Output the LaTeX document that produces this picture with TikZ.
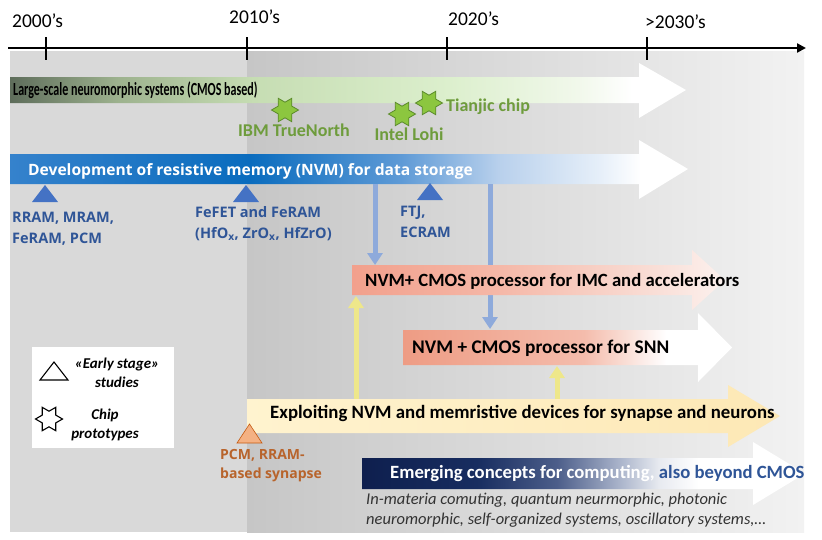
\documentclass[tikz,border=0pt]{standalone}
\usepackage{fontspec}
\setmainfont{Carlito}
\newfontfamily\segfont{Open Sans}
\newfontfamily\narrowfont[FakeStretch=0.65]{Carlito}
\usepackage{xcolor}
\usetikzlibrary{arrows.meta,shapes.geometric}

\definecolor{panelL}{HTML}{D9D9D9}
\definecolor{panelRa}{HTML}{C6C6C6}
\definecolor{panelRb}{HTML}{F2F2F2}
\definecolor{cmosA}{HTML}{5E6D5B}
\definecolor{cmosB}{HTML}{9DB28E}
\definecolor{cmosC}{HTML}{C6DDB3}
\definecolor{cmosD}{HTML}{DCEFCD}
\definecolor{cmosE}{HTML}{F1F8EB}
\definecolor{nvmA}{HTML}{3582CC}
\definecolor{nvmB}{HTML}{0A6CBE}
\definecolor{nvmC}{HTML}{5E9AD6}
\definecolor{nvmD}{HTML}{B8D0EC}
\definecolor{nvmE}{HTML}{E6EFF9}
\definecolor{imcA}{HTML}{F2A08C}
\definecolor{imcB}{HTML}{F5B8A8}
\definecolor{imcC}{HTML}{F9DDD5}
\definecolor{imcD}{HTML}{FCF1EE}
\definecolor{snnA}{HTML}{EE9C84}
\definecolor{snnB}{HTML}{F4BCAC}
\definecolor{synA}{HTML}{FFF3CF}
\definecolor{synB}{HTML}{FDE8B5}
\definecolor{emgA}{HTML}{0E1F4E}
\definecolor{emgB}{HTML}{182D60}
\definecolor{emgC}{HTML}{4C5E8A}
\definecolor{emgD}{HTML}{A9B3CA}
\definecolor{emgE}{HTML}{E7EAF0}
\definecolor{memblue}{HTML}{2F5597}
\definecolor{triblue}{HTML}{4472C4}
\definecolor{chipgreen}{HTML}{6E9C3C}
\definecolor{stargreen}{HTML}{8CC63F}
\definecolor{stargreenD}{HTML}{5A8A2A}
\definecolor{linkblue}{HTML}{8EAADB}
\definecolor{linkyellow}{HTML}{EEE78A}
\definecolor{pcmfill}{HTML}{F4B183}
\definecolor{pcmdraw}{HTML}{C55A11}
\definecolor{pcmtext}{HTML}{B8642C}
\definecolor{darktext}{HTML}{333333}

\pgfdeclarehorizontalshading{cmosband}{100bp}{color(0bp)=(cmosA); color(25bp)=(cmosA); color(33bp)=(cmosB); color(43bp)=(cmosC); color(57.5bp)=(cmosD); color(67bp)=(cmosE); color(71bp)=(white); color(100bp)=(white)}
\pgfdeclarehorizontalshading{nvmband}{100bp}{color(0bp)=(nvmA); color(25bp)=(nvmA); color(42.7bp)=(nvmB); color(53.8bp)=(nvmC); color(61bp)=(nvmD); color(68.5bp)=(nvmE); color(71.5bp)=(white); color(100bp)=(white)}
\pgfdeclarehorizontalshading{imcband}{100bp}{color(0bp)=(imcA); color(25bp)=(imcA); color(45bp)=(imcB); color(65bp)=(imcC); color(75bp)=(imcD); color(100bp)=(imcD)}
\pgfdeclarehorizontalshading{snnband}{100bp}{color(0bp)=(snnA); color(25bp)=(snnA); color(52.5bp)=(snnB); color(65bp)=(white); color(100bp)=(white)}
\pgfdeclarehorizontalshading{emgband}{100bp}{color(0bp)=(emgA); color(25bp)=(emgA); color(38bp)=(emgB); color(47bp)=(emgC); color(54bp)=(emgD); color(58.5bp)=(emgE); color(63bp)=(white); color(100bp)=(white)}

\tikzset{
  year/.style={anchor=base west, inner sep=0pt, font=\fontsize{19.5}{20}\selectfont},
  bandtxt/.style={anchor=base west, inner sep=0pt, font=\fontsize{18.7}{20}\selectfont\bfseries},
  memlbl/.style={anchor=base west, inner sep=0pt, align=left, text=memblue, font=\segfont\fontsize{14.5}{20.5}\selectfont\bfseries},
  chiplbl/.style={anchor=base, inner sep=0pt, text=chipgreen, font=\fontsize{18}{20}\selectfont\bfseries},
  chipstar/.style={star, star points=6, star point ratio=1.73, shape border rotate=30, minimum size=27pt, inner sep=0pt, fill=stargreen, draw=stargreenD, line width=0.8pt},
  keystar/.style={star, star points=6, star point ratio=1.73, shape border rotate=30, minimum size=27pt, inner sep=0pt, draw=black, line width=1.1pt},
  keylbl/.style={anchor=base, inner sep=0pt, align=center, font=\fontsize{15}{19}\selectfont\bfseries\itshape},
  link/.style={line width=5pt, -{Triangle[width=15pt,length=12pt]}}
}

\begin{document}
\begin{tikzpicture}[x=1pt,y=-1pt]
   \useasboundingbox (0,0) rectangle (822,539);
   \fill[panelL] (10,51) rectangle (247,532);
   \shade[left color=panelRa,right color=panelRb] (247,51) rectangle (804,532);
   \draw[line width=2.4pt,-{Triangle[length=9pt,width=9pt]}] (8,48) -- (806,48);
   \foreach \x in {46,247,447,647}
      \draw[line width=2.4pt] (\x,37) -- (\x,60);
   \node[year] (y2000) at (12,27) {2000's};
   \node[year] (y2010) at (229,23) {2010's};
   \node[year] (y2020) at (448,25) {2020's};
   \node[year] (y2030) at (645,28) {>2030's};

   \shade[shading=cmosband] (10,77) -- (639,77) -- (639,63) -- (686,90) -- (639,118) -- (639,103) -- (10,103) -- cycle;
   \node[bandtxt, font=\narrowfont\fontsize{18.5}{20}\selectfont\bfseries] (cmos) at (13,95) {Large-scale neuromorphic systems (CMOS based)};
   \shade[shading=nvmband] (10,154) -- (639,154) -- (639,140) -- (688,169) -- (639,199) -- (639,184) -- (10,184) -- cycle;
   \node[bandtxt, text=white, font=\segfont\fontsize{15.6}{20}\selectfont\bfseries] (nvm) at (28,175) {Development of resistive memory (NVM) for data storage};

   \coordinate (nvmL) at (375,184);
   \coordinate (imcT) at (375,265);
   \coordinate (nvmR) at (490,184);
   \coordinate (snnT) at (490,329);
   \coordinate (synL) at (356,399);
   \coordinate (imcB) at (356,296);
   \coordinate (synR) at (557,399);
   \coordinate (snnB) at (557,366);
   \draw[link, linkblue] (nvmR) -- (snnT);
   \draw[link, linkyellow] (synL) -- (imcB);
   \draw[link, linkyellow] (synR) -- (snnB);

   \shade[shading=imcband] (352,265) -- (692,265) -- (692,250) -- (725,280) -- (692,310) -- (692,295) -- (352,295) -- cycle;
   \node[bandtxt] (imc) at (365,286) {NVM+ CMOS processor for IMC and accelerators};
   \draw[link, linkblue] (nvmL) -- (imcT);
   \shade[shading=snnband] (403,330) -- (698,330) -- (698,313) -- (732,347.5) -- (698,382) -- (698,365) -- (403,365) -- cycle;
   \node[bandtxt, font=\fontsize{19.3}{20}\selectfont\bfseries] (snn) at (412,353) {NVM + CMOS processor for SNN};
   \shade[left color=synA,right color=synB] (247,399) -- (728,399) -- (728,385) -- (780,416) -- (728,447) -- (728,433) -- (247,433) -- cycle;
   \node[bandtxt, font=\fontsize{18.8}{20}\selectfont\bfseries] (syn) at (270,418) {Exploiting NVM and memristive devices for synapse and neurons};
   \shade[shading=emgband] (362,458) -- (753,458) -- (753,442) -- (805,473.5) -- (753,505) -- (753,489) -- (362,489) -- cycle;
   \node[bandtxt] (emg) at (390,478) {\color{white}Emerging concepts for computing, \color{memblue}also beyond CMOS};
   \node[anchor=base west, inner sep=0pt, align=left, text=darktext, font=\fontsize{16.5}{20}\selectfont\itshape] (misc) at (366,524) {In-materia comuting, quantum neurmorphic, photonic\\neuromorphic, self-organized systems, oscillatory systems,…};

   \node[chipstar] (ibm) at (285,110) {};
   \node[chiplbl] (ibmlbl) at (294,136) {IBM TrueNorth};
   \node[chipstar] (lohi) at (402,114) {};
   \node[chiplbl] (lohilbl) at (409,140) {Intel Lohi};
   \node[chipstar] (tianjic) at (429,103) {};
   \node[chiplbl, anchor=base west] (tianjiclbl) at (446,111) {Tianjic chip};

   \foreach \x/\y in {45/185,246/185,430/183}
      \fill[triblue] (\x-13,\y+17) -- (\x,\y) -- (\x+13,\y+17) -- cycle;
   \node[memlbl] (rram) at (12,243) {RRAM, MRAM,\\FeRAM, PCM};
   \node[memlbl] (fefet) at (195,238) {FeFET and FeRAM\\(HfO\textsubscript{x}, ZrO\textsubscript{x}, HfZrO)};
   \node[memlbl] (ftj) at (400,237) {FTJ,\\ECRAM};

   \filldraw[fill=pcmfill, draw=pcmdraw, line width=0.6pt] (237,443) -- (249.5,424) -- (262,443) -- cycle;
   \node[memlbl, text=pcmtext, font=\segfont\fontsize{14}{19}\selectfont\bfseries] (pcm) at (220,478) {PCM, RRAM-\\based synapse};

   \fill[white] (32,347) rectangle (174,448);
   \draw[line width=1.1pt] (40,380) -- (54,362) -- (68,380) -- cycle;
   \node[keylbl] (early) at (117,387) {«Early stage»\\studies};
   \node[keystar] (chipkey) at (49,419) {};
   \node[keylbl] (proto) at (105,438) {Chip\\prototypes};
\end{tikzpicture}
\end{document}
